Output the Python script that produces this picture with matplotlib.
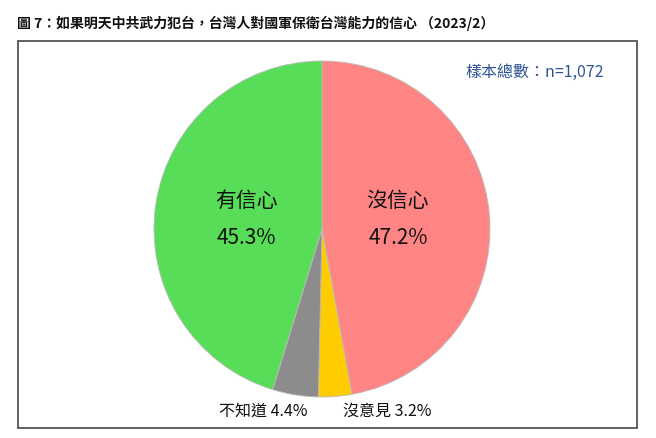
import matplotlib
matplotlib.use("Agg")
import matplotlib.pyplot as plt
from matplotlib.patches import Rectangle

plt.rcParams['font.family'] = ['Noto Sans CJK TC', 'DejaVu Sans']

categories = ['沒信心', '沒意見', '不知道', '有信心']
values = [47.2, 3.2, 4.4, 45.3]
colors = ['#FF8585', '#FFCC00', '#8C8C8C', '#57DD57']
title = '圖 7：如果明天中共武力犯台，台灣人對國軍保衛台灣能力的信心 （2023/2）'
sample_note = '樣本總數：n=1,072'

W, H = 656, 439
fig = plt.figure(figsize=(W / 100, H / 100), dpi=100)
ax = fig.add_axes([0, 0, 1, 1])

def py(y):
    return H - y

cx, cy, r = 322, py(230), 168
ax.pie(values, colors=colors, startangle=90, counterclock=False,
       center=(cx, cy), radius=r, frame=True,
       wedgeprops=dict(edgecolor='#BBBBBB', linewidth=0.6))
ax.set_xlim(0, W)
ax.set_ylim(0, H)
ax.set_aspect('equal')
ax.axis('off')

# frame box
ax.add_patch(Rectangle((18, py(429)), 619, 387, fill=False, edgecolor='#555555', linewidth=1.3))

fig.text(17 / W, 1 - 23 / H, title, fontsize=10, fontweight='bold', ha='left', va='center', color='#111111')
ax.text(535, py(72), sample_note, fontsize=11.5, color='#2F5597', ha='center', va='center')

# big labels
ax.text(246, py(201), categories[3], fontsize=15, fontweight='medium', ha='center', va='center', color='#111111')
ax.text(246, py(238), f'{values[3]}%', fontsize=15, fontweight='medium', ha='center', va='center', color='#111111')
ax.text(398, py(201), categories[0], fontsize=15, fontweight='medium', ha='center', va='center', color='#111111')
ax.text(398, py(238), f'{values[0]}%', fontsize=15, fontweight='medium', ha='center', va='center', color='#111111')

# small labels
ax.text(263, py(411), f'{categories[2]} {values[2]}%', fontsize=11.5, ha='center', va='center', color='#111111')
ax.text(387, py(411), f'{categories[1]} {values[1]}%', fontsize=11.5, ha='center', va='center', color='#111111')

fig.savefig('out.png', dpi=100, facecolor='white')
